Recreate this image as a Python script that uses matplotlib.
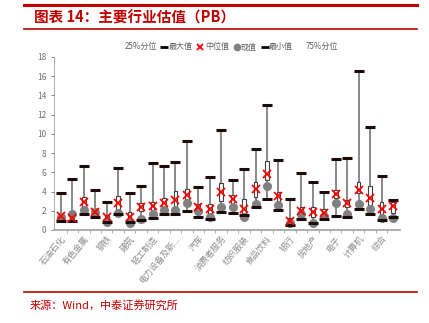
import matplotlib.pyplot as plt
from matplotlib.lines import Line2D
import numpy as np

plt.rcParams['font.family'] = ['Noto Sans CJK SC', 'DejaVu Sans']

# 中信一级行业 PB
industries = ['石油石化', '煤炭', '有色金属', '电力及公用事业', '钢铁', '基础化工',
              '建筑', '建材', '轻工制造', '机械', '电力设备及新...', '国防军工',
              '汽车', '商贸零售', '消费者服务', '家电', '纺织服装', '医药',
              '食品饮料', '农林牧渔', '银行', '非银行金融', '房地产', '交通运输',
              '电子', '通信', '计算机', '传媒', '综合', '综合金融']
pb_max = [3.8, 5.3, 6.6, 4.2, 2.9, 6.4, 3.8, 4.6, 7.0, 6.6, 7.1, 9.2, 4.5, 5.5, 10.4,
          5.2, 6.3, 8.4, 13.0, 7.3, 3.2, 5.9, 5.0, 3.9, 7.4, 7.5, 16.5, 10.7, 5.6, 3.1]
pb_q75 = [1.7, 2.0, 3.4, 2.2, 1.6, 3.5, 1.9, 2.8, 2.9, 3.3, 4.1, 4.3, 2.7, 2.7, 4.9,
          3.6, 3.2, 5.0, 7.2, 4.0, 1.2, 2.4, 2.4, 2.2, 4.2, 3.1, 5.0, 4.6, 2.9, 2.9]
pb_median = [1.5, 1.2, 2.9, 1.9, 1.4, 2.8, 1.4, 2.4, 2.5, 2.8, 3.1, 3.6, 2.4, 2.2, 3.9,
             3.2, 2.2, 4.3, 5.8, 3.5, 0.95, 2.0, 1.9, 1.8, 3.7, 2.8, 4.2, 3.3, 2.2, 2.5]
pb_q25 = [1.0, 1.0, 2.3, 1.6, 1.1, 2.2, 1.0, 2.0, 2.1, 2.2, 2.4, 3.0, 2.0, 1.6, 3.0,
          2.7, 1.8, 3.4, 5.2, 3.0, 0.75, 1.6, 1.4, 1.6, 3.3, 2.4, 3.8, 2.6, 1.7, 1.8]
pb_min = [0.9, 0.9, 1.7, 1.4, 0.85, 1.7, 0.85, 1.0, 1.2, 1.7, 1.7, 2.0, 1.3, 1.1, 1.9,
          1.8, 1.6, 2.4, 3.2, 2.1, 0.55, 1.1, 0.75, 1.1, 1.45, 1.3, 2.15, 1.7, 1.05, 1.3]
pb_now = [1.3, 1.7, 2.1, 1.9, 0.8, 1.8, 0.7, 1.1, 1.7, 2.1, 2.1, 2.8, 2.0, 1.3, 2.4,
          2.4, 1.4, 2.7, 4.6, 2.6, 0.7, 1.7, 0.7, 1.45, 2.8, 1.7, 2.7, 2.15, 1.2, 1.2]

grey = '#808080'
red = '#C00000'

fig = plt.figure(figsize=(4.29, 3.23), dpi=100)
ax = fig.add_axes([0.126, 0.288, 0.806, 0.536])

x = np.arange(len(industries))
w = 0.32

# whiskers
ax.vlines(x, pb_min, pb_max, color=grey, lw=1.3, zorder=1)
# boxes 25%-75%
ax.bar(x, np.array(pb_q75) - np.array(pb_q25), bottom=pb_q25, width=w,
       color='white', edgecolor='#404040', lw=0.8, zorder=2)
# current value
ax.plot(x, pb_now, 'o', color=grey, ms=5.5, ls='none', zorder=3)
# max / min dashes
ax.plot(x, pb_max, '_', color='#1a0a0a', ms=7, mew=2.2, ls='none', zorder=4)
ax.plot(x, pb_min, '_', color='#1a0a0a', ms=7, mew=2.2, ls='none', zorder=4)
# median
ax.plot(x, pb_median, 'x', color='#FF0000', ms=5.5, mew=1.3, ls='none', zorder=5)

ax.set_xlim(-0.6, len(industries) - 0.4)
ax.set_ylim(0, 18)
ax.set_yticks(range(0, 19, 2))
ax.tick_params(axis='y', labelsize=6, colors='#707070', length=2, width=0.6)
ax.set_xticks(x[::2])
ax.set_xticklabels(industries[::2], rotation=50, ha='right', rotation_mode='anchor',
                   fontsize=6.2, color='#8c8c8c', fontweight='light')
ax.set_xticks(x[:-1] + 0.5, minor=True)
ax.tick_params(axis='x', which='major', length=0, pad=3)
ax.tick_params(axis='x', which='minor', length=2.5, width=0.6, color='#a0a0a0')
for s in ['top', 'right']:
    ax.spines[s].set_visible(False)
ax.spines['left'].set_color('#a0a0a0')
ax.spines['bottom'].set_color('#a0a0a0')
ax.spines['left'].set_linewidth(0.6)
ax.spines['bottom'].set_linewidth(1.2)

handles = [
    Line2D([], [], ls='none'),
    Line2D([], [], marker='_', color='black', ms=6, mew=2, ls='none'),
    Line2D([], [], marker='x', color='#FF0000', ms=4.5, mew=1.3, ls='none'),
    Line2D([], [], marker='o', color=grey, ms=4.5, ls='none'),
    Line2D([], [], marker='_', color='black', ms=6, mew=2, ls='none'),
    Line2D([], [], ls='none'),
]
labels = ['25%分位', '最大值', '中位值', '现值', '最小值', '75%分位']
leg = fig.legend(handles, labels, loc='center', bbox_to_anchor=(0.53, 0.855), ncol=6,
                 frameon=False, handlelength=0.7, handletextpad=0.2,
                 columnspacing=0.6, labelcolor='#606060',
                 prop={'size': 5.8, 'weight': 'light'})

# title block
fig.add_artist(Line2D([0.056, 0.972], [0.984, 0.984], color=red, lw=2.2))
fig.add_artist(Line2D([0.056, 0.972], [0.91, 0.91], color=red, lw=1.2))
fig.text(0.08, 0.947, '图表 14：主要行业估值（PB）', color=red, fontsize=10.5,
         fontweight='bold', va='center', ha='left')

# source
fig.add_artist(Line2D([0.056, 0.972], [0.096, 0.096], color=red, lw=1.2))
fig.text(0.07, 0.055, '来源：Wind，中泰证券研究所', color=red, fontsize=8,
         va='center', ha='left')

plt.savefig('out.png', dpi=100)
